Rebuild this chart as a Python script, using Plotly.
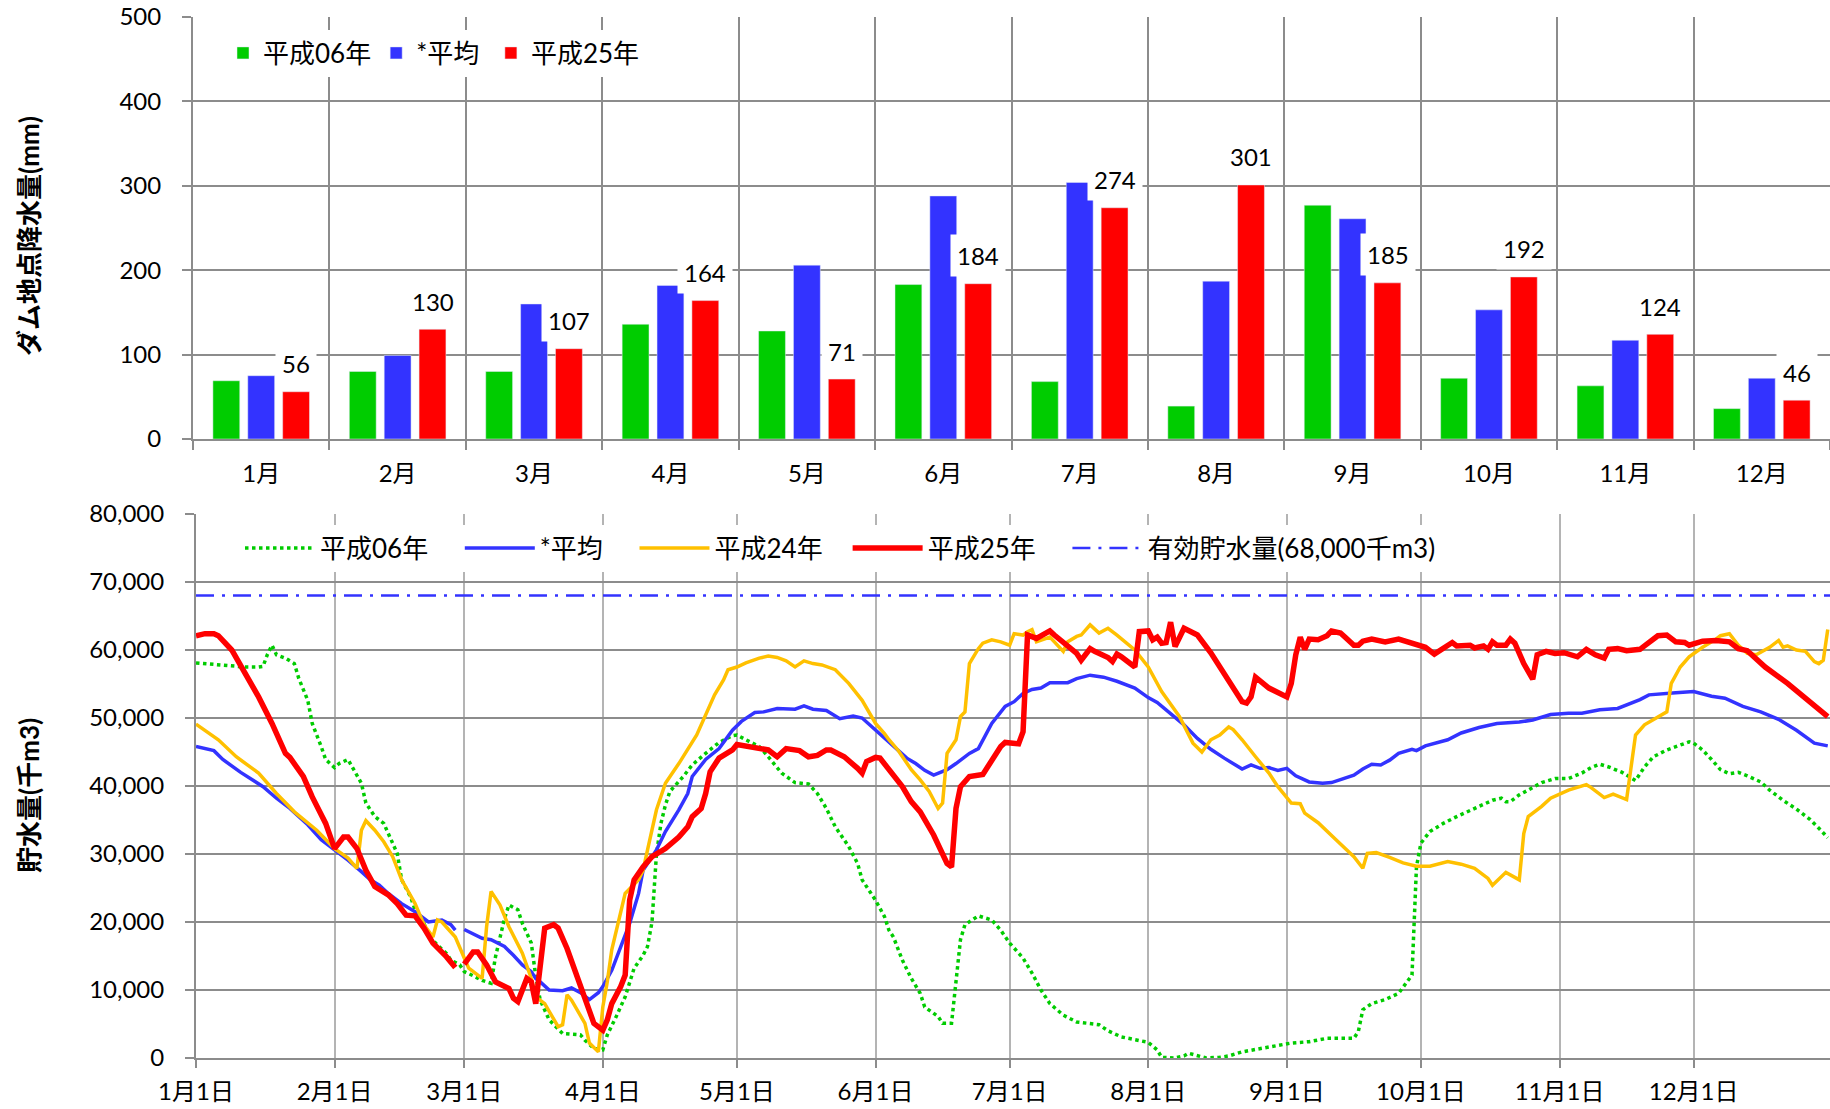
import plotly.graph_objects as go
import pandas as pd

W, H = 1830, 1109
FONT = "Lato, 'Noto Sans CJK JP', sans-serif"
GRID = "#8c8c8c"
VGRID = "#b4b4b4"
NB = "\u00a0"  # spacing between legend entries

# ---------------- top chart: monthly rainfall (mm) ----------------
months = ["1月", "2月", "3月", "4月", "5月", "6月", "7月", "8月", "9月", "10月", "11月", "12月"]
rain_h06 = [69, 80, 80, 136, 128, 183, 68, 39, 277, 72, 63, 36]
rain_avg = [75, 99, 160, 182, 206, 288, 304, 187, 261, 153, 117, 72]
rain_h25 = [56, 130, 107, 164, 71, 184, 274, 301, 185, 192, 124, 46]

# ---------------- bottom chart: storage (千m3) ----------------
# day index within a 366-day (leap-year) template, 0 = 1月1日
date_ticks = ["2012-01-01", "2012-02-01", "2012-03-01", "2012-04-01", "2012-05-01", "2012-06-01",
              "2012-07-01", "2012-08-01", "2012-09-01", "2012-10-01", "2012-11-01", "2012-12-01"]
date_labels = ["1月1日", "2月1日", "3月1日", "4月1日", "5月1日", "6月1日",
               "7月1日", "8月1日", "9月1日", "10月1日", "11月1日", "12月1日"]

h06_days = [0, 4, 8, 11, 14, 15, 16, 17, 18, 20,
            22, 23, 25, 26, 28, 29, 31, 32, 34, 35,
            37, 38, 40, 42, 43, 45, 46, 48, 49, 51,
            52, 54, 56, 57, 59, 60, 62, 64, 66, 67,
            69, 70, 72, 73, 75, 76, 77, 79, 82, 86,
            87, 89, 91, 92, 94, 96, 98, 100, 101, 102,
            103, 104, 105, 106, 109, 111, 114, 117, 120, 121,
            123, 126, 128, 131, 134, 137, 139, 141, 143, 146,
            148, 149, 152, 154, 155, 156, 158, 160, 162, 163,
            166, 167, 169, 170, 171, 172, 174, 175, 178, 180,
            182, 185, 187, 189, 191, 194, 197, 200, 202, 204,
            207, 210, 213, 215, 216, 219, 221, 222, 224, 226,
            229, 231, 234, 238, 242, 245, 249, 253, 257, 259,
            260, 261, 263, 266, 269, 271, 272, 273, 274, 276,
            279, 282, 285, 288, 290, 292, 293, 294, 296, 298,
            301, 304, 307, 310, 312, 314, 316, 319, 321, 322,
            324, 326, 329, 332, 334, 335, 337, 339, 341, 343,
            345, 347, 350, 352, 355, 358, 361, 363, 365]
h06_vals = [58100, 57900, 57600, 57500, 57500, 57600, 59400, 60700, 59300, 58800,
            58000, 55800, 52600, 49200, 45800, 43900, 42700, 43300, 43900, 42800,
            40400, 37500, 35500, 34500, 33000, 30100, 26200, 23700, 21800, 19800,
            18100, 16600, 15400, 14400, 13700, 12700, 12100, 11400, 11000, 14900,
            20500, 22500, 21800, 19800, 16900, 12000, 8500, 5600, 3600, 3400,
            2600, 1400, 1200, 3400, 6100, 9000, 13200, 15100, 16400, 20000,
            30000, 34500, 37200, 39200, 41400, 43100, 44800, 46400, 47400, 47500,
            46800, 45800, 44300, 41900, 40500, 40300, 38900, 36700, 34000, 31100,
            28600, 26200, 23200, 20800, 18800, 17800, 14400, 11700, 9500, 7500,
            6100, 5100, 5100, 11000, 17400, 19600, 20500, 20900, 20300, 18800,
            16900, 14700, 12500, 10000, 8000, 6300, 5300, 5000, 4900, 4000,
            3100, 2700, 2300, 1200, 100, 0, 300, 700, 300, 0,
            100, 300, 900, 1400, 1900, 2200, 2400, 2900, 2900, 2900,
            3900, 7100, 8000, 8600, 9500, 11200, 12200, 28100, 31600, 33300,
            34500, 35500, 36400, 37400, 37900, 38200, 37700, 37700, 38700, 39400,
            40500, 41100, 41100, 41900, 42700, 43200, 42800, 42000, 41100, 40800,
            42800, 44300, 45300, 46000, 46500, 46300, 45300, 43900, 42400, 41800,
            42000, 41500, 40600, 39400, 37900, 36600, 35100, 33800, 32400]

avg_days = [0, 2, 4, 6, 10, 15, 18, 21, 25, 28,
            31, 34, 37, 39, 41, 43, 46, 49, 52, 55,
            57, 58, 59, 60, 64, 66, 69, 71, 73, 75,
            76, 77, 79, 82, 84, 86, 88, 90, 91, 93,
            95, 97, 99, 100, 103, 105, 108, 110, 111, 114,
            117, 120, 122, 125, 127, 130, 134, 136, 138, 141,
            144, 147, 149, 152, 154, 157, 159, 161, 163, 165,
            168, 170, 173, 175, 176, 178, 181, 183, 185, 187,
            189, 191, 193, 195, 197, 200, 203, 206, 210, 213,
            215, 218, 221, 224, 227, 230, 231, 234, 236, 238,
            240, 242, 244, 246, 249, 252, 254, 256, 259, 261,
            263, 265, 267, 269, 272, 273, 275, 280, 283, 287,
            291, 296, 299, 303, 307, 310, 314, 318, 321, 323,
            325, 328, 331, 335, 339, 342, 346, 350, 354, 358,
            362, 365]
avg_vals = [45800, 45500, 45200, 43900, 42000, 39900, 38200, 36700, 34300, 32100,
            30600, 29100, 27400, 26200, 25400, 24200, 22700, 21500, 20000, 20300,
            19600, 18800, None, 18900, 17600, 17400, 16400, 15100, 13700, 12700,
            11700, 11200, 10000, 9900, 10300, 9600, 8600, 9600, 10500, 12900,
            16400, 19800, 24200, 27600, 30600, 33300, 36500, 38900, 41400, 43900,
            45500, 48200, 49500, 50800, 50900, 51400, 51300, 51800, 51300, 51100,
            49900, 50300, 50000, 48200, 47000, 45300, 44100, 43300, 42300, 41600,
            42400, 43300, 44800, 45500, 46800, 49200, 51700, 52400, 53600, 54200,
            54400, 55200, 55200, 55200, 55800, 56300, 56000, 55400, 54400, 53000,
            52300, 50700, 49000, 47000, 45400, 44100, 43700, 42500, 43100, 42600,
            42700, 42300, 42600, 41500, 40600, 40400, 40500, 40900, 41600, 42500,
            43200, 43100, 43800, 44800, 45400, 45200, 45900, 46800, 47800, 48600,
            49200, 49400, 49700, 50500, 50700, 50700, 51200, 51400, 52100, 52700,
            53400, 53600, 53700, 53900, 53200, 52900, 51700, 50900, 49800, 48200,
            46300, 45900]

h24_days = [0, 5, 9, 14, 18, 22, 27, 31, 34, 36,
            37, 38, 40, 42, 44, 46, 49, 51, 53, 54,
            55, 58, 60, 61, 64, 65, 66, 68, 70, 73,
            75, 76, 78, 81, 82, 83, 84, 87, 88, 90,
            91, 92, 93, 95, 96, 99, 100, 101, 103, 105,
            108, 112, 114, 116, 118, 119, 121, 123, 126, 128,
            130, 132, 134, 136, 138, 140, 143, 146, 149, 152,
            154, 155, 157, 160, 162, 164, 166, 167, 168, 170,
            171, 172, 173, 175, 176, 178, 180, 182, 183, 185,
            186, 187, 188, 191, 192, 194, 195, 197, 198, 200,
            202, 204, 206, 210, 213, 216, 220, 223, 225, 227,
            229, 231, 232, 234, 237, 240, 242, 245, 247, 248,
            251, 252, 255, 259, 261, 262, 264, 267, 270, 273,
            276, 280, 283, 286, 289, 290, 292, 293, 296, 297,
            298, 301, 303, 307, 311, 312, 315, 317, 320, 321,
            322, 324, 327, 329, 330, 332, 334, 337, 340, 341,
            343, 345, 347, 349, 352, 354, 355, 356, 358, 360,
            362, 363, 364, 365]
h24_vals = [49100, 46800, 44300, 41900, 38900, 36200, 33500, 30800, 29400, 27900,
            33500, 34900, 33500, 31800, 29600, 26200, 22700, 19600, 17800, 20300,
            20000, 17800, 14700, 13200, 11700, 19300, 24500, 22500, 19300, 15400,
            11700, 9000, 8000, 4600, 4900, 9300, 8500, 5100, 2200, 900,
            7500, 11200, 15900, 21300, 24200, 26200, 27600, 30600, 36500, 40400,
            43300, 47500, 50400, 53400, 55600, 57100, 57500, 58100, 58800, 59100,
            58900, 58400, 57500, 58400, 58000, 57800, 57100, 55100, 52600, 49200,
            47700, 46800, 45300, 42400, 40900, 39200, 36700, 37500, 44800, 46800,
            50200, 50900, 58000, 60200, 61000, 61500, 61200, 60700, 62400, 62200,
            62700, 63000, 61200, 61900, 61200, 59800, 61200, 62000, 62200, 63700,
            62500, 63200, 62200, 60000, 57500, 53900, 50200, 46300, 45000, 46800,
            47500, 48700, 48300, 46800, 44300, 41900, 39900, 37500, 37400, 36000,
            34600, 34000, 32100, 29600, 27900, 30100, 30200, 29500, 28700, 28200,
            28200, 28900, 28500, 27900, 26400, 25400, 26700, 27300, 26200, 33000,
            35500, 37000, 38200, 39400, 40200, 39800, 38300, 38800, 38000, 42800,
            47500, 49000, 50200, 50900, 55100, 57500, 59000, 60400, 61600, 62100,
            62400, 60700, 59500, 59300, 60400, 61400, 60400, 60600, 60000, 59800,
            58300, 58000, 58500, 63000]

h25_days = [0, 2, 4, 5, 8, 11, 14, 17, 20, 21,
            24, 26, 29, 31, 33, 34, 36, 38, 40, 43,
            45, 47, 49, 51, 53, 56, 58, 59, 60, 62,
            63, 65, 67, 70, 71, 72, 74, 75, 76, 78,
            80, 81, 83, 85, 87, 89, 91, 92, 93, 95,
            96, 97, 98, 100, 102, 105, 108, 110, 111, 113,
            114, 115, 117, 120, 121, 123, 126, 128, 130, 132,
            135, 137, 139, 141, 142, 145, 148, 149, 150, 152,
            153, 155, 158, 160, 162, 165, 167, 168, 169, 170,
            171, 173, 176, 177, 180, 181, 183, 184, 185, 186,
            188, 191, 192, 195, 197, 198, 200, 201, 204, 205,
            206, 207, 210, 211, 213, 214, 215, 216, 217, 218,
            219, 221, 222, 224, 227, 230, 234, 235, 236, 237,
            240, 244, 245, 246, 247, 248, 249, 251, 253, 254,
            256, 257, 259, 260, 261, 263, 266, 269, 272, 275,
            277, 278, 281, 282, 285, 286, 288, 289, 290, 291,
            293, 294, 295, 297, 299, 300, 302, 304, 306, 309,
            311, 313, 315, 316, 318, 320, 323, 324, 327, 329,
            331, 333, 334, 337, 340, 343, 345, 347, 351, 356,
            361, 365]
h25_vals = [62100, 62400, 62400, 62100, 60000, 56600, 53100, 49200, 44800, 44200,
            41400, 38400, 34500, 30800, 32500, 32500, 30800, 27600, 25200, 24000,
            22700, 21000, 20900, 19100, 16900, 14900, 13300, None, 13800, 15600,
            15600, 13700, 11200, 10200, 8800, 8300, 11700, 11200, 8000, 19100,
            19600, 19100, 16100, 12500, 8500, 5100, 4100, 5600, 8000, 10500,
            12200, 23200, 26200, 28100, 29600, 30800, 32500, 34000, 35500, 36700,
            38900, 42100, 44100, 45300, 46100, 45900, 45500, 45300, 44300, 45500,
            45200, 44300, 44500, 45300, 45300, 44300, 42600, 41900, 43600, 44200,
            44100, 42400, 39900, 37700, 36200, 32800, 30100, 28600, 28100, 36700,
            39900, 41400, 41700, 42800, 45800, 46400, 46400, 46200, 48000, 62200,
            61700, 62800, 62200, 60700, 59500, 58500, 60200, 59800, 58900, 58300,
            59400, 59000, 57500, 62700, 62800, 61500, 61900, 61000, 61100, 64100,
            60500, 63200, 62800, 62200, 59600, 56600, 52400, 52200, 53100, 56000,
            54400, 53100, 55100, 59300, 61900, 60100, 61600, 61500, 62100, 62800,
            62500, 61900, 60700, 60700, 61300, 61600, 61200, 61600, 61100, 60400,
            59400, 59800, 61100, 60600, 60700, 60300, 60600, 60100, 61200, 60700,
            60700, 61600, 61000, 58000, 55700, 59300, 59800, 59500, 59600, 59000,
            60100, 59300, 58800, 60100, 60200, 59900, 60100, 60600, 62100, 62200,
            61200, 61100, 60700, 61300, 61400, 61200, 60200, 59900, 57500, 55100,
            52500, 50200]

cap_days = [0, 366]
cap_vals = [68000, 68000]

BASE = pd.Timestamp("2012-01-01")


def to_dates(days):
    return [BASE + pd.Timedelta(days=d) for d in days]


fig = go.Figure()

# bars
fig.add_trace(go.Bar(x=months, y=rain_h06, name="平成06年", marker=dict(color="#00CC00"),
                     xaxis="x", yaxis="y", legend="legend"))
fig.add_trace(go.Bar(x=months, y=rain_avg, name="*平均" + NB, marker=dict(color="#3333FF"),
                     xaxis="x", yaxis="y", legend="legend"))
fig.add_trace(go.Bar(x=months, y=rain_h25, name="平成25年", marker=dict(color="#FF0000"),
                     xaxis="x", yaxis="y", legend="legend"))

# lines
fig.add_trace(go.Scatter(x=to_dates(h06_days), y=h06_vals, mode="lines", name="平成06年" + NB * 4,
                         line=dict(color="#00CC00", width=3.5, dash="3.5px,3.5px"),
                         xaxis="x2", yaxis="y2", legend="legend2"))
fig.add_trace(go.Scatter(x=to_dates(avg_days), y=avg_vals, mode="lines", name="*平均" + NB * 4,
                         line=dict(color="#3333FF", width=3.5), connectgaps=False,
                         xaxis="x2", yaxis="y2", legend="legend2"))
fig.add_trace(go.Scatter(x=to_dates(h24_days), y=h24_vals, mode="lines", name="平成24年" + NB * 3,
                         line=dict(color="#FFC000", width=3.5),
                         xaxis="x2", yaxis="y2", legend="legend2"))
fig.add_trace(go.Scatter(x=to_dates(h25_days), y=h25_vals, mode="lines", name="平成25年" + NB * 4,
                         line=dict(color="#FF0000", width=5.5), connectgaps=False,
                         xaxis="x2", yaxis="y2", legend="legend2"))
fig.add_trace(go.Scatter(x=to_dates(cap_days), y=cap_vals, mode="lines", name="有効貯水量(68,000千m3)",
                         line=dict(color="#3333FF", width=2.5, dash="18px,8px,3px,8px"),
                         xaxis="x2", yaxis="y2", legend="legend2"))

# data labels on 平成25年 bars
annotations = []
for m, v in zip(months, rain_h25):
    annotations.append(dict(x=m, y=v, xref="x", yref="y", text=str(v), showarrow=False,
                            xshift=35, yshift=28, bgcolor="white", borderpad=6,
                            font=dict(size=24, color="#000")))

# axis titles
annotations.append(dict(x=29 / W, y=1 - 236 / H, xref="paper", yref="paper",
                        xanchor="center", yanchor="middle",
                        text="<b>ダム地点降水量(mm)</b>", textangle=-90, showarrow=False,
                        font=dict(size=26, color="#000")))
annotations.append(dict(x=29 / W, y=1 - 796 / H, xref="paper", yref="paper",
                        xanchor="center", yanchor="middle",
                        text="<b>貯水量(千m3)</b>", textangle=-90, showarrow=False,
                        font=dict(size=26, color="#000")))

axis_common = dict(automargin=False, tickfont=dict(size=24, color="#000"),
                   ticks="outside", tickwidth=2, tickcolor=GRID,
                   showline=True, linecolor=GRID, linewidth=2, zeroline=False,
                   showgrid=True, gridwidth=2)

fig.update_layout(
    width=W, height=H,
    margin=dict(l=0, r=0, t=0, b=0),
    paper_bgcolor="white", plot_bgcolor="white",
    font=dict(family=FONT, size=24, color="#000"),
    barmode="group", bargap=0.233, bargroupgap=0.23,
    showlegend=True,
    annotations=annotations,
    xaxis=dict(domain=[193 / W, 1], anchor="y", type="category", range=[-0.5, 11.5],
               tickson="boundaries", ticklen=9, gridcolor=GRID, ticklabelstandoff=12,
               **axis_common),
    yaxis=dict(domain=[1 - 439 / H, 1 - 17 / H], anchor="x", range=[0, 500], dtick=100,
               ticklen=9, gridcolor=GRID, ticklabelstandoff=16, **axis_common),
    xaxis2=dict(domain=[196 / W, 1], anchor="y2", type="date",
                range=["2012-01-01", "2012-12-31 12:00"],
                tickmode="array", tickvals=date_ticks, ticktext=date_labels,
                ticklen=8, gridcolor=VGRID, ticklabelstandoff=3, **axis_common),
    yaxis2=dict(domain=[1 - 1058 / H, 1 - 514 / H], anchor="x2", range=[0, 80000], dtick=10000,
                tickformat=",", ticklen=9, gridcolor=GRID, ticklabelstandoff=16, **axis_common),
    legend=dict(orientation="h", x=223 / W, xanchor="left", y=1 - 53 / H, yanchor="middle",
                bgcolor="white", font=dict(size=26, color="#000"), itemwidth=30),
    legend2=dict(orientation="h", x=240 / W, xanchor="left", y=1 - 548 / H, yanchor="middle",
                 bgcolor="white", font=dict(size=26, color="#000"), itemwidth=70),
)

fig.write_html("out.html", include_plotlyjs=True, config={"displayModeBar": False},
               post_script="document.body.style.margin='0';document.body.style.overflow='hidden';")
